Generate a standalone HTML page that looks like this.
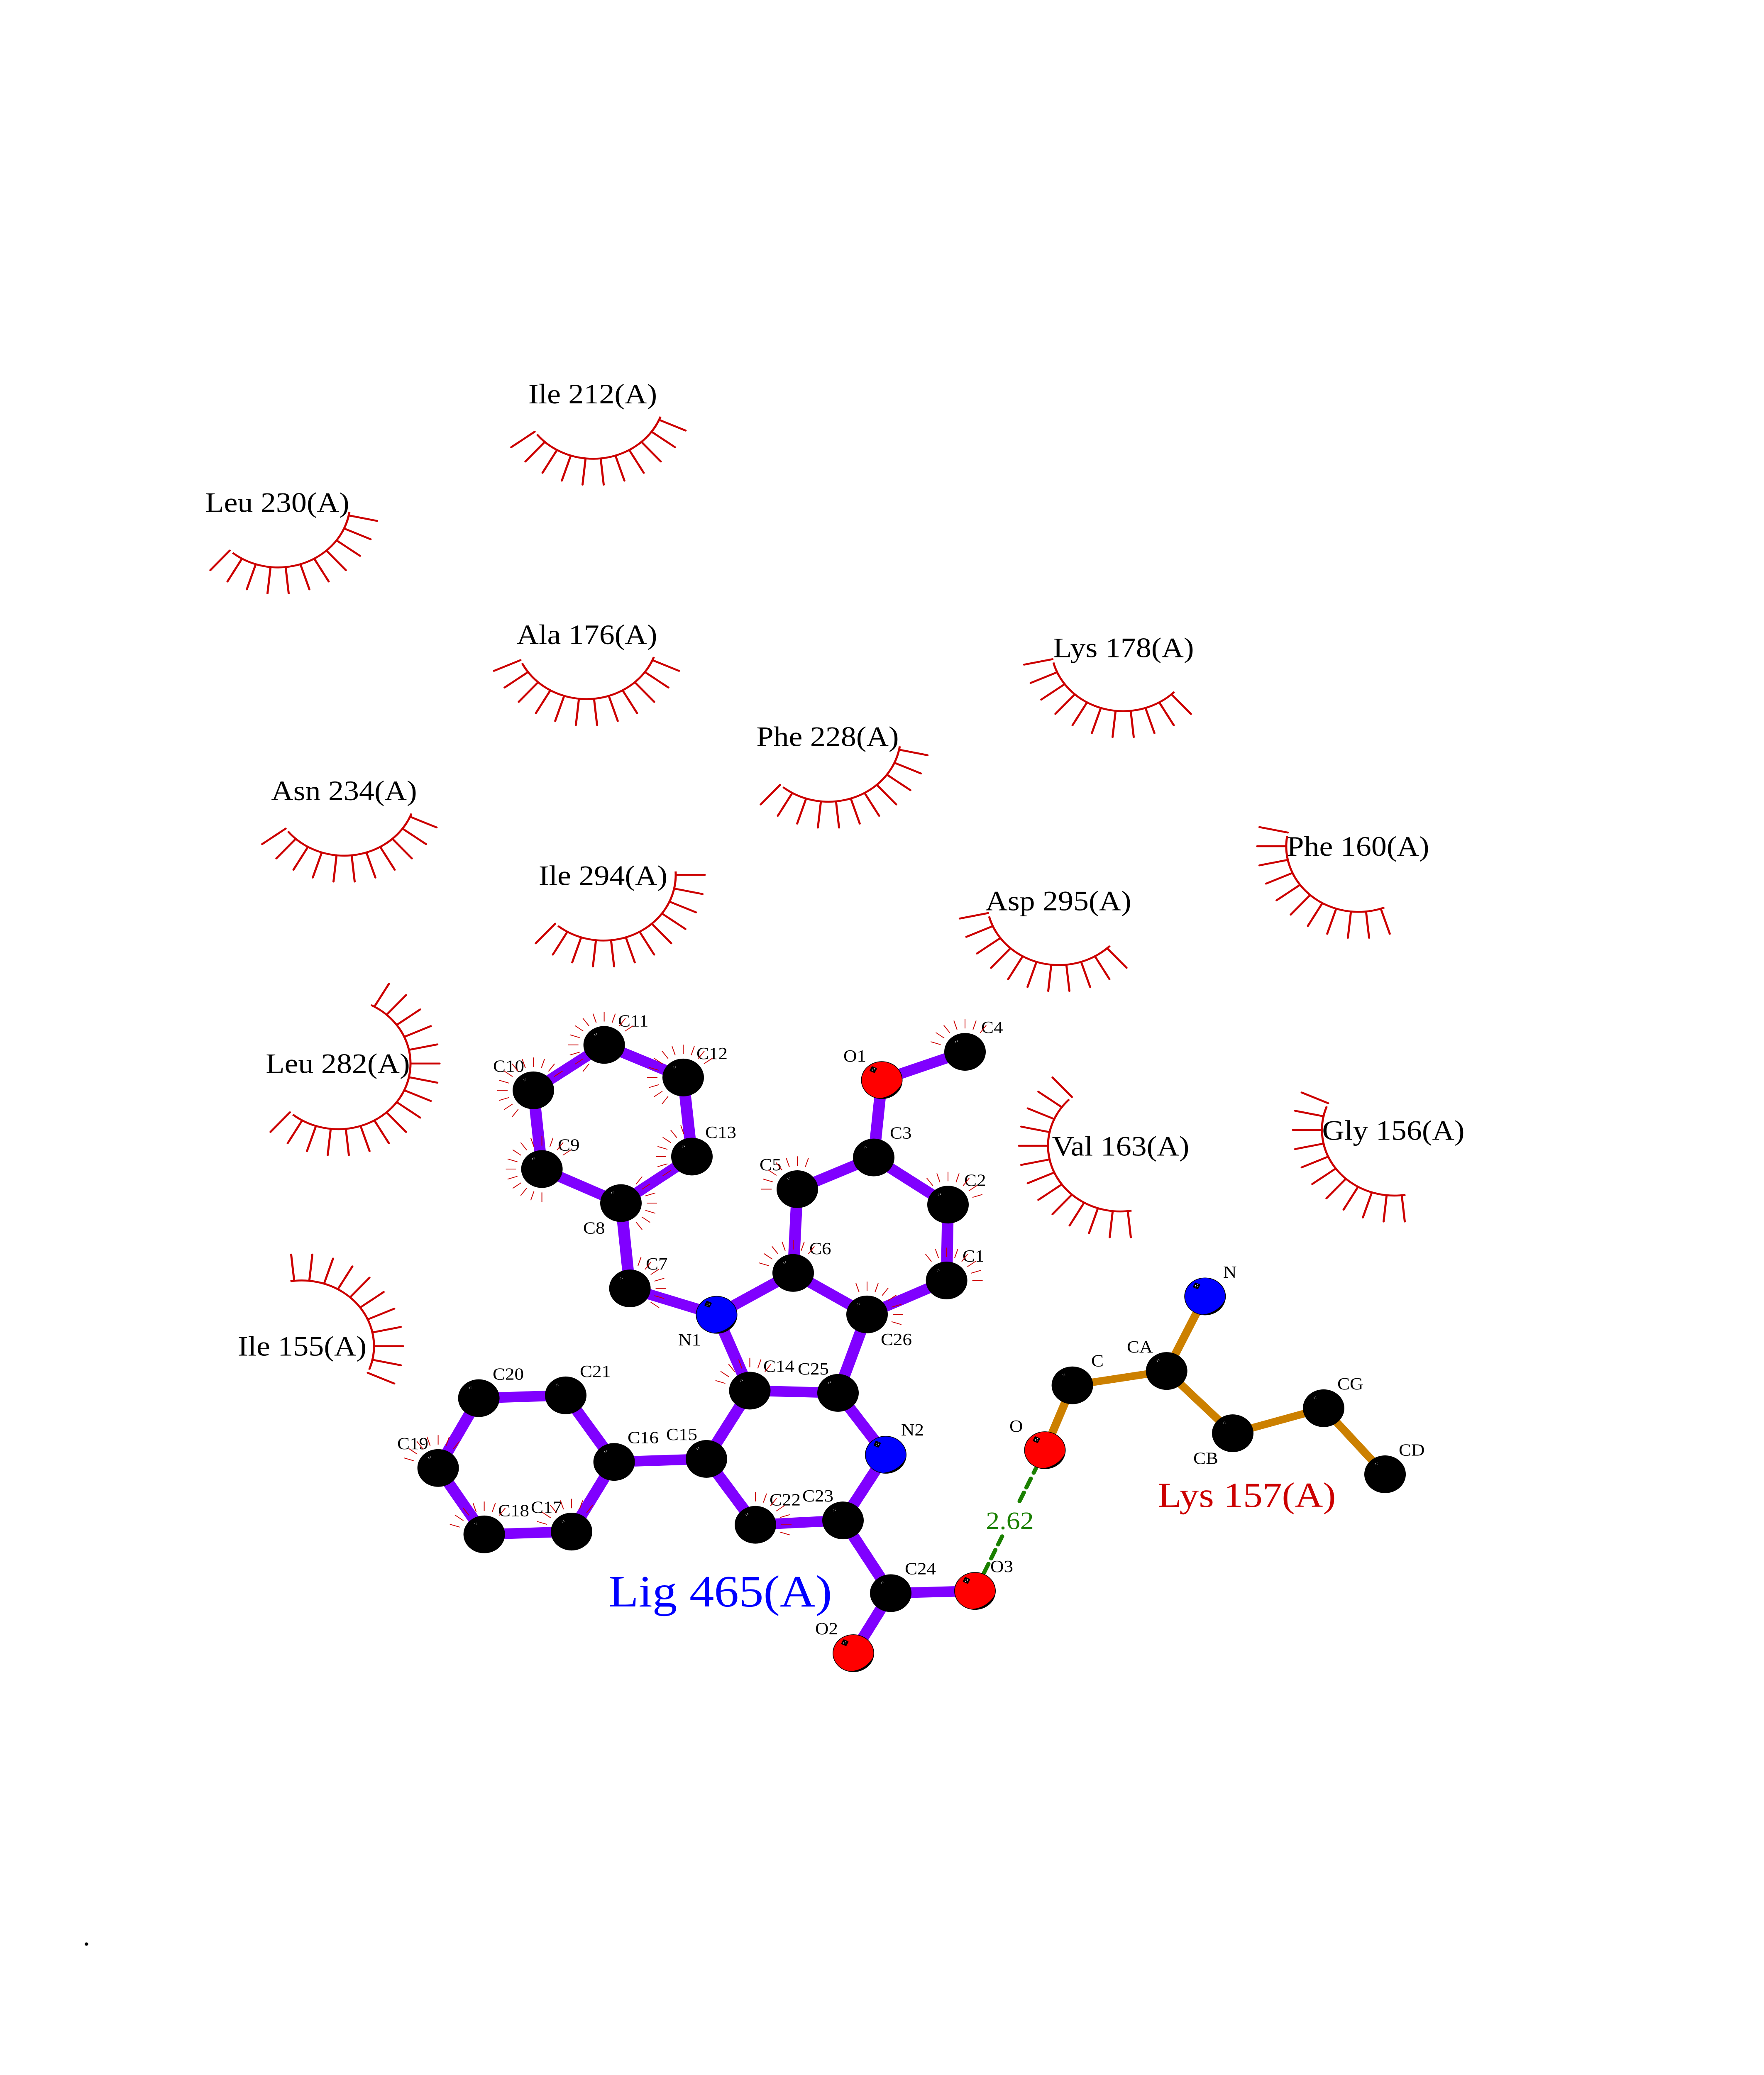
<!DOCTYPE html>
<html><head><meta charset="utf-8"><style>
html,body{margin:0;padding:0;background:#fff;width:100%;height:100%;overflow:hidden}
svg{display:block;width:100vw;height:100vh}
text{font-family:"Liberation Serif",serif}
.r{font-size:74px;text-anchor:middle;fill:#000}
.a{font-size:45px;fill:#000}
.e{fill:none;stroke:#c00;stroke-width:5;stroke-linecap:round}
.f{fill:none;stroke:#c00;stroke-width:2}
</style></head><body>
<svg xmlns="http://www.w3.org/2000/svg" viewBox="0 0 4250 5500" preserveAspectRatio="none">
<defs>
<g id="k"><circle r="50" fill="#000"/><g fill="#ccc"><circle cx="-23" cy="-28" r=".9"/><circle cx="-19" cy="-30" r=".9"/><circle cx="-22" cy="-25" r=".9"/><circle cx="-18" cy="-27" r=".9"/></g></g>
<g id="hl"><path d="M49 6A49 49 0 0 1-9 48A66 66 0 0 0 49 6Z" fill="#000"/><rect x="-7" y="-7" width="14" height="14" rx="2" transform="translate(-20.5 -28) rotate(25)" fill="#000"/><g fill="#fff"><circle cx="-23" cy="-29" r="1"/><circle cx="-18" cy="-31" r="1"/><circle cx="-23" cy="-25" r="1"/><circle cx="-18" cy="-27" r="1"/></g></g>
<g id="n"><circle r="49.2" fill="#00f" stroke="#000" stroke-width="1.6"/><use href="#hl"/></g>
<g id="o"><circle r="49.2" fill="#f00" stroke="#000" stroke-width="1.6"/><use href="#hl"/></g>
<g id="fa" class="f"><path d="M62 0h25" transform="rotate(-162)"/><path d="M62 0h25" transform="rotate(-144)"/><path d="M62 0h25" transform="rotate(-126)"/><path d="M62 0h25" transform="rotate(-108)"/><path d="M62 0h25" transform="rotate(-90)"/><path d="M62 0h25" transform="rotate(-72)"/><path d="M62 0h25" transform="rotate(-54)"/></g>
<g id="fb" class="f"><use href="#fa"/><path d="M62 0h25" transform="rotate(-36)"/><path d="M62 0h25" transform="rotate(180)"/><path d="M62 0h25" transform="rotate(162)"/><path d="M62 0h25" transform="rotate(144)"/><path d="M62 0h25" transform="rotate(126)"/></g>
<path id="t" d="M174 0h70"/>
</defs>
<rect width="4250" height="5500" fill="#fff"/>

<!-- hydrogen bond -->
<g stroke="#1a8000" stroke-width="10" stroke-linecap="round" fill="none">
<path d="M2495.4 3893L2490.4 3904M2483.6 3919L2472.8 3943M2466.9 3956L2456.5 3979M2414.5 4072L2404.6 4094M2398.2 4108L2387.9 4131M2381.5 4145L2370.7 4169"/>
</g>
<text x="2433" y="4053" font-size="66" text-anchor="middle" fill="#1a8000">2.62</text>

<!-- ligand bonds -->
<g stroke="#8000ff" stroke-width="28" fill="none">
<path d="M2280.6 3394L2284 3193L2105 3068L1921 3152L1911 3374L2089 3484L2280.6 3394"/>
<path d="M2105 3068L2124.5 2863L2325 2788"/>
<path d="M1911 3374L1726.5 3485L1517.6 3415L1496 3189L1305.6 3098.7L1285 2890L1455.6 2769.6L1646 2856L1667 3065.6L1496 3189"/>
<path d="M1726.5 3485L1806.5 3686L2019 3692L2089 3484"/>
<path d="M2019 3692L2134 3856L2031 4030L1820 4041.6L1702 3867L1806.5 3686"/>
<path d="M1702 3867L1479.6 3875L1377 4059.7L1166.6 4067L1055.6 3891L1153.6 3706L1363 3698.5L1479.6 3875"/>
<path d="M2031 4030L2146 4222.8L2349 4217M2146 4222.8L2056 4382"/>
</g>
<!-- residue bonds -->
<g stroke="#cc8000" stroke-width="20" fill="none">
<path d="M2903.3 3436.3L2810.7 3634L2583.6 3672L2517.5 3844M2810.7 3634L2970 3799L3189 3732.6L3337 3907.7"/>
</g>

<!-- atoms -->
<use href="#k" x="1455.6" y="2769.6"/><use href="#k" x="1646" y="2856"/><use href="#k" x="1285" y="2890"/><use href="#k" x="1305.6" y="3098.7"/><use href="#k" x="1667" y="3065.6"/><use href="#k" x="1496" y="3189"/><use href="#k" x="1517.6" y="3415"/>
<use href="#k" x="1911" y="3374"/><use href="#k" x="1921" y="3152"/><use href="#k" x="2105" y="3068"/><use href="#k" x="2284" y="3193"/><use href="#k" x="2280.6" y="3394"/><use href="#k" x="2089" y="3484"/><use href="#k" x="2325" y="2788"/>
<use href="#k" x="1806.5" y="3686"/><use href="#k" x="2019" y="3692"/><use href="#k" x="1702" y="3867"/><use href="#k" x="1820" y="4041.6"/><use href="#k" x="2031" y="4030"/>
<use href="#k" x="1153.6" y="3706"/><use href="#k" x="1363" y="3698.5"/><use href="#k" x="1479.6" y="3875"/><use href="#k" x="1055.6" y="3891"/><use href="#k" x="1166.6" y="4067"/><use href="#k" x="1377" y="4059.7"/>
<use href="#k" x="2146" y="4222.8"/>
<use href="#k" x="2583.6" y="3672"/><use href="#k" x="2810.7" y="3634"/><use href="#k" x="2970" y="3799"/><use href="#k" x="3189" y="3732.6"/><use href="#k" x="3337" y="3907.7"/>
<use href="#n" x="1726.5" y="3485"/><use href="#n" x="2134" y="3856"/><use href="#n" x="2903.3" y="3436.3"/>
<use href="#o" x="2124.5" y="2863"/><use href="#o" x="2349" y="4217"/><use href="#o" x="2056" y="4382"/><use href="#o" x="2517.5" y="3844"/>

<!-- atom labels -->
<g class="a">
<text class="a" x="1489" y="2721">C11</text><text class="a" x="1678" y="2807">C12</text><text class="a" x="1188" y="2841">C10</text><text class="a" x="1344" y="3050">C9</text><text class="a" x="1699" y="3016">C13</text>
<text class="a" x="2144" y="3018">C3</text><text class="a" x="2032" y="2814">O1</text><text class="a" x="2364" y="2738">C4</text><text class="a" x="1830" y="3102">C5</text><text class="a" x="2323" y="3143">C2</text>
<text class="a" x="1405" y="3270">C8</text><text class="a" x="1950" y="3324">C6</text><text class="a" x="2319" y="3344">C1</text><text class="a" x="1556" y="3365">C7</text><text class="a" x="1634" y="3566">N1</text><text class="a" x="2122" y="3565">C26</text>
<text class="a" x="1839" y="3636">C14</text><text class="a" x="1922" y="3643">C25</text><text class="a" x="2171" y="3805">N2</text><text class="a" x="1605" y="3817">C15</text><text class="a" x="1512" y="3825">C16</text>
<text class="a" x="1854" y="3990">C22</text><text class="a" x="1933" y="3980">C23</text><text class="a" x="2180" y="4173">C24</text>
<text class="a" x="1187" y="3657">C20</text><text class="a" x="1397" y="3650">C21</text><text class="a" x="957" y="3841">C19</text><text class="a" x="1200" y="4019">C18</text><text class="a" x="1279" y="4010">C17</text>
<text class="a" x="2386" y="4167">O3</text><text class="a" x="1964" y="4332">O2</text><text class="a" x="2432" y="3795">O</text><text class="a" x="2629" y="3622">C</text><text class="a" x="2715" y="3585">CA</text><text class="a" x="2875" y="3880">CB</text><text class="a" x="3222" y="3683">CG</text><text class="a" x="3370" y="3858">CD</text><text class="a" x="2947" y="3387">N</text>
</g>

<!-- atom fans -->
<use href="#fb" x="1455.6" y="2769.6"/><use href="#fb" x="1646" y="2856"/><use href="#fb" x="1285" y="2890"/>
<g class="f" transform="translate(1305.6 3098.7)"><use href="#fb"/><path d="M62 0h25" transform="rotate(108)"/><path d="M62 0h25" transform="rotate(90)"/></g>
<g class="f" transform="translate(1667 3065.6)"><path d="M62 0h25" transform="rotate(-108)"/><path d="M62 0h25" transform="rotate(-126)"/><path d="M62 0h25" transform="rotate(-144)"/><path d="M62 0h25" transform="rotate(-162)"/><path d="M62 0h25" transform="rotate(180)"/><path d="M62 0h25" transform="rotate(162)"/><path d="M62 0h25" transform="rotate(144)"/></g>
<g class="f" transform="translate(1496 3189)"><path d="M62 0h25" transform="rotate(-54)"/><path d="M62 0h25" transform="rotate(-36)"/><path d="M62 0h25" transform="rotate(-18)"/><path d="M62 0h25"/><path d="M62 0h25" transform="rotate(18)"/><path d="M62 0h25" transform="rotate(36)"/><path d="M62 0h25" transform="rotate(54)"/></g>
<g class="f" transform="translate(1517.6 3415)"><path d="M62 0h25" transform="rotate(-72)"/><path d="M62 0h25" transform="rotate(-54)"/><path d="M62 0h25" transform="rotate(-36)"/><path d="M62 0h25" transform="rotate(-18)"/><path d="M62 0h25"/><path d="M62 0h25" transform="rotate(18)"/><path d="M62 0h25" transform="rotate(36)"/></g>
<g class="f" transform="translate(1921 3152)"><path d="M62 0h25" transform="rotate(-72)"/><path d="M62 0h25" transform="rotate(-90)"/><path d="M62 0h25" transform="rotate(-108)"/><path d="M62 0h25" transform="rotate(-126)"/><path d="M62 0h25" transform="rotate(-144)"/><path d="M62 0h25" transform="rotate(-162)"/><path d="M62 0h25" transform="rotate(180)"/></g>
<g class="f" transform="translate(2284 3193)"><path d="M62 0h25" transform="rotate(-126)"/><path d="M62 0h25" transform="rotate(-108)"/><path d="M62 0h25" transform="rotate(-90)"/><path d="M62 0h25" transform="rotate(-72)"/><path d="M62 0h25" transform="rotate(-54)"/><path d="M62 0h25" transform="rotate(-36)"/><path d="M62 0h25" transform="rotate(-18)"/></g>
<g class="f" transform="translate(2280.6 3394)"><path d="M62 0h25" transform="rotate(-126)"/><path d="M62 0h25" transform="rotate(-108)"/><path d="M62 0h25" transform="rotate(-90)"/><path d="M62 0h25" transform="rotate(-72)"/><path d="M62 0h25" transform="rotate(-54)"/><path d="M62 0h25" transform="rotate(-36)"/><path d="M62 0h25" transform="rotate(-18)"/><path d="M62 0h25"/></g>
<g class="f" transform="translate(2089 3484)"><path d="M62 0h25" transform="rotate(-108)"/><path d="M62 0h25" transform="rotate(-90)"/><path d="M62 0h25" transform="rotate(-72)"/><path d="M62 0h25" transform="rotate(-54)"/><path d="M62 0h25" transform="rotate(-36)"/><path d="M62 0h25" transform="rotate(-18)"/><path d="M62 0h25"/><path d="M62 0h25" transform="rotate(18)"/></g>
<g class="f" transform="translate(1820 4041.6)"><path d="M62 0h25" transform="rotate(-90)"/><path d="M62 0h25" transform="rotate(-72)"/><path d="M62 0h25" transform="rotate(-54)"/><path d="M62 0h25" transform="rotate(-36)"/><path d="M62 0h25" transform="rotate(-18)"/><path d="M62 0h25"/><path d="M62 0h25" transform="rotate(18)"/></g>
<use href="#fa" x="1911" y="3374"/><use href="#fa" x="2325" y="2788"/><use href="#fa" x="1806.5" y="3686"/><use href="#fa" x="1055.6" y="3891"/><use href="#fa" x="1166.6" y="4067"/><use href="#fa" x="1377" y="4059.7"/>

<!-- residue labels -->
<text class="r" x="1428" y="1069">Ile 212(A)</text>
<text class="r" x="668" y="1357">Leu 230(A)</text>
<text class="r" x="1414" y="1707">Ala 176(A)</text>
<text class="r" x="2707" y="1742">Lys 178(A)</text>
<text class="r" x="1994" y="1977">Phe 228(A)</text>
<text class="r" x="2550" y="2413">Asp 295(A)</text>
<text class="r" x="829" y="2121">Asn 234(A)</text>
<text class="r" x="1453" y="2346">Ile 294(A)</text>
<text class="r" x="814" y="2844">Leu 282(A)</text>
<text class="r" x="3272" y="2268">Phe 160(A)</text>
<text class="r" x="2700" y="3063">Val 163(A)</text>
<text class="r" x="3357" y="3021">Gly 156(A)</text>
<text class="r" x="728" y="3593">Ile 155(A)</text>
<text x="3004" y="3994" font-size="93.6" text-anchor="middle" fill="#c00">Lys 157(A)</text>
<text x="1466" y="4258" font-size="119" fill="#00f">Lig 465(A)</text>
<text x="199" y="5156.5" font-size="74" fill="#000">.</text>

<!-- hydrophobic arcs -->
<g class="e" transform="translate(1429 1042)"><circle r="174" pathLength="360" stroke-dasharray="120 360" stroke-linecap="butt" transform="rotate(21)"/><use href="#t" transform="rotate(24)"/><use href="#t" transform="rotate(36)"/><use href="#t" transform="rotate(48)"/><use href="#t" transform="rotate(60)"/><use href="#t" transform="rotate(72)"/><use href="#t" transform="rotate(84)"/><use href="#t" transform="rotate(96)"/><use href="#t" transform="rotate(108)"/><use href="#t" transform="rotate(120)"/><use href="#t" transform="rotate(132)"/><use href="#t" transform="rotate(144)"/></g>
<g class="e" transform="translate(670 1330)"><circle r="174" pathLength="360" stroke-dasharray="120 360" stroke-linecap="butt" transform="rotate(9)"/><use href="#t" transform="rotate(12)"/><use href="#t" transform="rotate(24)"/><use href="#t" transform="rotate(36)"/><use href="#t" transform="rotate(48)"/><use href="#t" transform="rotate(60)"/><use href="#t" transform="rotate(72)"/><use href="#t" transform="rotate(84)"/><use href="#t" transform="rotate(96)"/><use href="#t" transform="rotate(108)"/><use href="#t" transform="rotate(120)"/><use href="#t" transform="rotate(132)"/></g>
<g class="e" transform="translate(1413 1679)"><circle r="174" pathLength="360" stroke-dasharray="132 360" stroke-linecap="butt" transform="rotate(21)"/><use href="#t" transform="rotate(24)"/><use href="#t" transform="rotate(36)"/><use href="#t" transform="rotate(48)"/><use href="#t" transform="rotate(60)"/><use href="#t" transform="rotate(72)"/><use href="#t" transform="rotate(84)"/><use href="#t" transform="rotate(96)"/><use href="#t" transform="rotate(108)"/><use href="#t" transform="rotate(120)"/><use href="#t" transform="rotate(132)"/><use href="#t" transform="rotate(144)"/><use href="#t" transform="rotate(156)"/></g>
<g class="e" transform="translate(1996 1951)"><circle r="174" pathLength="360" stroke-dasharray="120 360" stroke-linecap="butt" transform="rotate(9)"/><use href="#t" transform="rotate(12)"/><use href="#t" transform="rotate(24)"/><use href="#t" transform="rotate(36)"/><use href="#t" transform="rotate(48)"/><use href="#t" transform="rotate(60)"/><use href="#t" transform="rotate(72)"/><use href="#t" transform="rotate(84)"/><use href="#t" transform="rotate(96)"/><use href="#t" transform="rotate(108)"/><use href="#t" transform="rotate(120)"/><use href="#t" transform="rotate(132)"/></g>
<g class="e" transform="translate(2706 1711)"><circle r="174" pathLength="360" stroke-dasharray="120 360" stroke-linecap="butt" transform="rotate(45)"/><use href="#t" transform="rotate(48)"/><use href="#t" transform="rotate(60)"/><use href="#t" transform="rotate(72)"/><use href="#t" transform="rotate(84)"/><use href="#t" transform="rotate(96)"/><use href="#t" transform="rotate(108)"/><use href="#t" transform="rotate(120)"/><use href="#t" transform="rotate(132)"/><use href="#t" transform="rotate(144)"/><use href="#t" transform="rotate(156)"/><use href="#t" transform="rotate(168)"/></g>
<g class="e" transform="translate(2551 2384)"><circle r="174" pathLength="360" stroke-dasharray="120 360" stroke-linecap="butt" transform="rotate(45)"/><use href="#t" transform="rotate(48)"/><use href="#t" transform="rotate(60)"/><use href="#t" transform="rotate(72)"/><use href="#t" transform="rotate(84)"/><use href="#t" transform="rotate(96)"/><use href="#t" transform="rotate(108)"/><use href="#t" transform="rotate(120)"/><use href="#t" transform="rotate(132)"/><use href="#t" transform="rotate(144)"/><use href="#t" transform="rotate(156)"/><use href="#t" transform="rotate(168)"/></g>
<g class="e" transform="translate(829 2094)"><circle r="174" pathLength="360" stroke-dasharray="120 360" stroke-linecap="butt" transform="rotate(21)"/><use href="#t" transform="rotate(24)"/><use href="#t" transform="rotate(36)"/><use href="#t" transform="rotate(48)"/><use href="#t" transform="rotate(60)"/><use href="#t" transform="rotate(72)"/><use href="#t" transform="rotate(84)"/><use href="#t" transform="rotate(96)"/><use href="#t" transform="rotate(108)"/><use href="#t" transform="rotate(120)"/><use href="#t" transform="rotate(132)"/><use href="#t" transform="rotate(144)"/></g>
<g class="e" transform="translate(1454 2319)"><circle r="174" pathLength="360" stroke-dasharray="132 360" stroke-linecap="butt" transform="rotate(-3)"/><use href="#t"/><use href="#t" transform="rotate(12)"/><use href="#t" transform="rotate(24)"/><use href="#t" transform="rotate(36)"/><use href="#t" transform="rotate(48)"/><use href="#t" transform="rotate(60)"/><use href="#t" transform="rotate(72)"/><use href="#t" transform="rotate(84)"/><use href="#t" transform="rotate(96)"/><use href="#t" transform="rotate(108)"/><use href="#t" transform="rotate(120)"/><use href="#t" transform="rotate(132)"/></g>
<g class="e" transform="translate(815 2819)"><circle r="174" pathLength="360" stroke-dasharray="192 360" stroke-linecap="butt" transform="rotate(-63)"/><use href="#t" transform="rotate(-60)"/><use href="#t" transform="rotate(-48)"/><use href="#t" transform="rotate(-36)"/><use href="#t" transform="rotate(-24)"/><use href="#t" transform="rotate(-12)"/><use href="#t"/><use href="#t" transform="rotate(12)"/><use href="#t" transform="rotate(24)"/><use href="#t" transform="rotate(36)"/><use href="#t" transform="rotate(48)"/><use href="#t" transform="rotate(60)"/><use href="#t" transform="rotate(72)"/><use href="#t" transform="rotate(84)"/><use href="#t" transform="rotate(96)"/><use href="#t" transform="rotate(108)"/><use href="#t" transform="rotate(120)"/><use href="#t" transform="rotate(132)"/></g>
<g class="e" transform="translate(3273 2243)"><circle r="174" pathLength="360" stroke-dasharray="120 360" stroke-linecap="butt" transform="rotate(69)"/><use href="#t" transform="rotate(72)"/><use href="#t" transform="rotate(84)"/><use href="#t" transform="rotate(96)"/><use href="#t" transform="rotate(108)"/><use href="#t" transform="rotate(120)"/><use href="#t" transform="rotate(132)"/><use href="#t" transform="rotate(144)"/><use href="#t" transform="rotate(156)"/><use href="#t" transform="rotate(168)"/><use href="#t" transform="rotate(180)"/><use href="#t" transform="rotate(192)"/></g>
<g class="e" transform="translate(2699 3037)"><circle r="174" pathLength="360" stroke-dasharray="144 360" stroke-linecap="butt" transform="rotate(81)"/><use href="#t" transform="rotate(84)"/><use href="#t" transform="rotate(96)"/><use href="#t" transform="rotate(108)"/><use href="#t" transform="rotate(120)"/><use href="#t" transform="rotate(132)"/><use href="#t" transform="rotate(144)"/><use href="#t" transform="rotate(156)"/><use href="#t" transform="rotate(168)"/><use href="#t" transform="rotate(180)"/><use href="#t" transform="rotate(192)"/><use href="#t" transform="rotate(204)"/><use href="#t" transform="rotate(216)"/><use href="#t" transform="rotate(228)"/></g>
<g class="e" transform="translate(3359 2995)"><circle r="174" pathLength="360" stroke-dasharray="120 360" stroke-linecap="butt" transform="rotate(81)"/><use href="#t" transform="rotate(84)"/><use href="#t" transform="rotate(96)"/><use href="#t" transform="rotate(108)"/><use href="#t" transform="rotate(120)"/><use href="#t" transform="rotate(132)"/><use href="#t" transform="rotate(144)"/><use href="#t" transform="rotate(156)"/><use href="#t" transform="rotate(168)"/><use href="#t" transform="rotate(180)"/><use href="#t" transform="rotate(192)"/><use href="#t" transform="rotate(204)"/></g>
<g class="e" transform="translate(727 3568)"><circle r="174" pathLength="360" stroke-dasharray="120 360" stroke-linecap="butt" transform="rotate(-99)"/><use href="#t" transform="rotate(-96)"/><use href="#t" transform="rotate(-84)"/><use href="#t" transform="rotate(-72)"/><use href="#t" transform="rotate(-60)"/><use href="#t" transform="rotate(-48)"/><use href="#t" transform="rotate(-36)"/><use href="#t" transform="rotate(-24)"/><use href="#t" transform="rotate(-12)"/><use href="#t"/><use href="#t" transform="rotate(12)"/><use href="#t" transform="rotate(24)"/></g>
</svg>
</body></html>
